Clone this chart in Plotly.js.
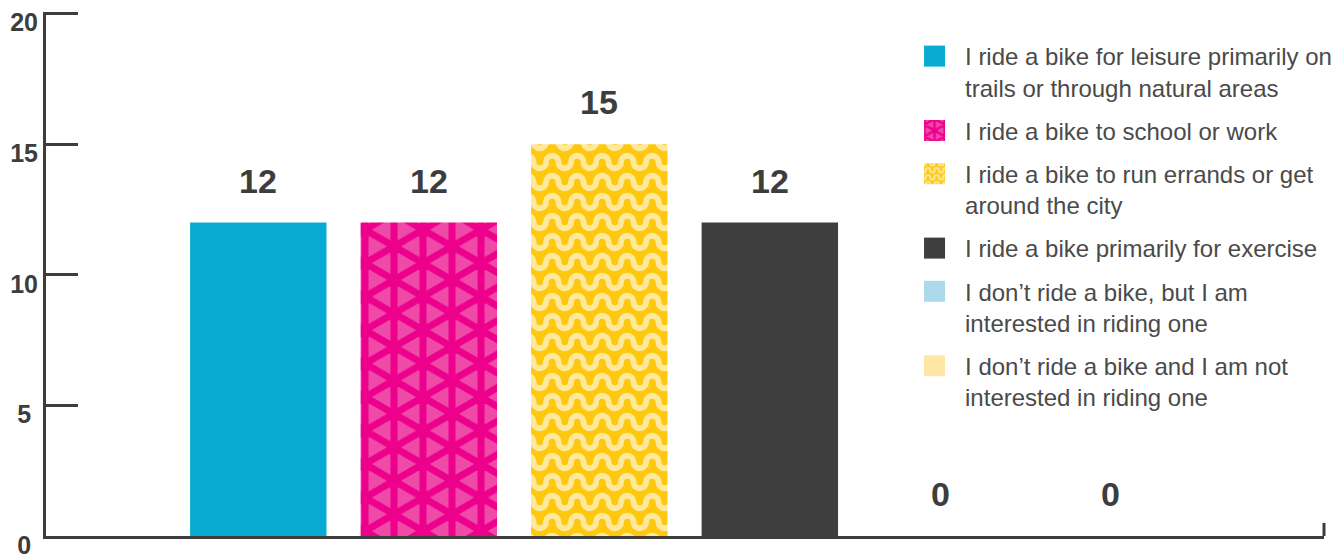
<!DOCTYPE html>
<html>
<head>
<meta charset="utf-8">
<script src="https://cdn.plot.ly/plotly-3.0.1.min.js"></script>
<style>
  html, body { margin: 0; padding: 0; background: #ffffff; }
  #chart { width: 1344px; height: 558px; }
</style>
</head>
<body>
<div id="chart"></div>
<script>
// Survey answers: how respondents use a bike
const categories = [
  'I ride a bike for leisure primarily on<br>trails or through natural areas',
  'I ride a bike to school or work',
  'I ride a bike to run errands or get<br>around the city',
  'I ride a bike primarily for exercise',
  'I don\u2019t ride a bike, but I am<br>interested in riding one',
  'I don\u2019t ride a bike and I am not<br>interested in riding one'
];
const counts = [12, 12, 15, 12, 0, 0];
const barColors = ['#08acd3', '#ec008c', '#fdc80d', '#3e3e3e', '#acd9eb', '#fee6a6'];
const tickValues = [0, 5, 10, 15, 20];
const tickLabels = ['0\u2008', '5\u2008', '10', '15', '20'];

const INK = '#3d3d3d';

// Fallback hatching per bar (replaced by richer tiles after drawing)
const fallbackPatterns = [
  null,
  { shape: 'x', bgcolor: '#f04aa9', fgcolor: '#ec008c', size: 29, solidity: 0.3 },
  { shape: '-', bgcolor: '#fdc80d', fgcolor: '#fee89b', size: 20, solidity: 0.3 },
  null, null, null
];

const traces = categories.map((cat, i) => {
  const marker = { color: barColors[i], line: { width: 0 } };
  if (fallbackPatterns[i]) marker.pattern = fallbackPatterns[i];
  return {
    type: 'bar',
    name: cat,
    legendgroup: 'g' + i,
    x: [cat],
    y: [counts[i]],
    width: 0.8,
    marker: marker,
    hoverinfo: 'skip'
  };
});

// Value labels above each bar
const valueLabels = categories.map((cat, i) => ({
  x: cat,
  y: counts[i],
  xref: 'x',
  yref: 'y',
  text: String(counts[i]),
  showarrow: false,
  yanchor: 'middle',
  yshift: 42,
  font: { family: 'Liberation Sans, Arial, sans-serif', size: 34, color: INK, weight: 700 }
}));

const layout = {
  width: 1344,
  height: 558,
  margin: { l: 46, r: 20, t: 12, b: 22, autoexpand: false },
  paper_bgcolor: '#ffffff',
  plot_bgcolor: '#ffffff',
  barmode: 'overlay',
  showlegend: true,
  xaxis: {
    type: 'category',
    range: [-1.245, 6.25],
    showticklabels: false,
    ticks: '',
    showgrid: false,
    zeroline: false,
    showline: true,
    linewidth: 3,
    linecolor: INK,
    fixedrange: true
  },
  yaxis: {
    // a hair of headroom keeps the top tick from being trimmed at the edge
    range: [0, 20.06],
    tickmode: 'array',
    tickvals: tickValues,
    ticktext: tickLabels,
    ticks: 'inside',
    ticklen: 32,
    tickwidth: 3,
    tickcolor: INK,
    showline: true,
    linewidth: 3,
    linecolor: INK,
    showgrid: false,
    zeroline: false,
    ticklabelshift: 9,
    ticklabeloverflow: 'allow',
    tickfont: { family: 'Liberation Sans, Arial, sans-serif', size: 25, color: INK, weight: 700 },
    fixedrange: true
  },
  legend: {
    x: 0.68,
    xanchor: 'left',
    y: 0.958,
    yanchor: 'top',
    bgcolor: 'rgba(0,0,0,0)',
    borderwidth: 0,
    itemwidth: 40,
    valign: 'top',
    tracegroupgap: 9,
    itemclick: false,
    itemdoubleclick: false,
    font: { family: 'Liberation Sans, Arial, sans-serif', size: 24, color: '#4a4a4a' }
  },
  annotations: valueLabels,
  shapes: [
    // small upturned end on the baseline
    { type: 'line', xref: 'paper', yref: 'paper', x0: 1, x1: 1, y0: 0, y1: 0.025,
      line: { color: INK, width: 3 } }
  ]
};

// Decorative tiles for the patterned bars
const SVGNS = 'http://www.w3.org/2000/svg';
const triSide = 2 * 29 / Math.sqrt(3);
function pinkTile() {
  const w = 58, h = triSide, dx = 29;
  let d = '';
  [0, dx, w].forEach(x => { d += 'M' + x + ',' + (-h) + 'L' + x + ',' + (2 * h); });
  for (let k = -2; k <= 3; k++) {
    d += 'M' + (-w) + ',' + ((k - 1) * h) + 'L' + (2 * w) + ',' + ((k + 2) * h);
    d += 'M' + (-w) + ',' + ((k + 1) * h) + 'L' + (2 * w) + ',' + ((k - 2) * h);
  }
  return { w: w, h: h, bg: '#f04aa9', fg: '#ec008c', sw: 7, d: d };
}
function waveTile() {
  const w = 25, h = 20, r = 6.25, y = 10;
  let d = 'M' + (-w) + ',' + y;
  for (let i = 0; i < 6; i++) {
    const x = -w + (i + 1) * 12.5;
    d += 'A' + r + ',' + r + ' 0 0,' + (i % 2 === 0 ? 1 : 0) + ' ' + x + ',' + y;
  }
  return { w: w, h: h, bg: '#fdc80d', fg: '#fee89b', sw: 6, d: d };
}
const tiles = { 1: pinkTile(), 2: waveTile() };

function patternFor(el) {
  if (!el) return null;
  const src = (el.getAttribute('style') || '') + ' ' + (el.getAttribute('fill') || '');
  const m = src.match(/#([^'")\s]+)/);
  if (!m) return null;
  return document.getElementById(m[1]);
}
function paintTile(pat, spec, k) {
  if (!pat) return;
  while (pat.firstChild) pat.removeChild(pat.firstChild);
  pat.setAttribute('patternUnits', 'userSpaceOnUse');
  pat.setAttribute('width', spec.w);
  pat.setAttribute('height', spec.h);
  pat.setAttribute('patternTransform', 'scale(' + k + ')');
  const rect = document.createElementNS(SVGNS, 'rect');
  rect.setAttribute('x', 0); rect.setAttribute('y', 0);
  rect.setAttribute('width', spec.w); rect.setAttribute('height', spec.h);
  rect.setAttribute('fill', spec.bg);
  pat.appendChild(rect);
  const path = document.createElementNS(SVGNS, 'path');
  path.setAttribute('d', spec.d);
  path.setAttribute('fill', 'none');
  path.setAttribute('stroke', spec.fg);
  path.setAttribute('stroke-width', spec.sw);
  pat.appendChild(path);
}

// legend swatches: larger squares, nudged toward the text block
const SYMBOL_SCALE = 1.75;
const SYMBOL_NUDGE = -5.5;
function decorate(gd) {
  try {
    const barTraces = gd.querySelectorAll('.barlayer .trace');
    const legendTraces = gd.querySelectorAll('.legend .traces');
    Object.keys(tiles).forEach(key => {
      const i = +key;
      if (barTraces[i]) paintTile(patternFor(barTraces[i].querySelector('path')), tiles[i], 1);
      if (legendTraces[i]) paintTile(patternFor(legendTraces[i].querySelector('.legendpoints path')), tiles[i], 0.2);
    });
    legendTraces.forEach(t => {
      const p = t.querySelector('.legendpoints path');
      if (!p) return;
      if (!p.hasAttribute('data-base-transform')) {
        p.setAttribute('data-base-transform', p.getAttribute('transform') || '');
      }
      p.setAttribute('transform', p.getAttribute('data-base-transform') +
        ' translate(' + SYMBOL_NUDGE + ',0) scale(' + SYMBOL_SCALE + ')');
    });
  } catch (e) { /* keep the plain hatching */ }
}

const gd = document.getElementById('chart');
Plotly.newPlot(gd, traces, layout, { displayModeBar: false, responsive: false })
  .then(() => {
    decorate(gd);
    gd.on('plotly_afterplot', () => decorate(gd));
  });
</script>
</body>
</html>
